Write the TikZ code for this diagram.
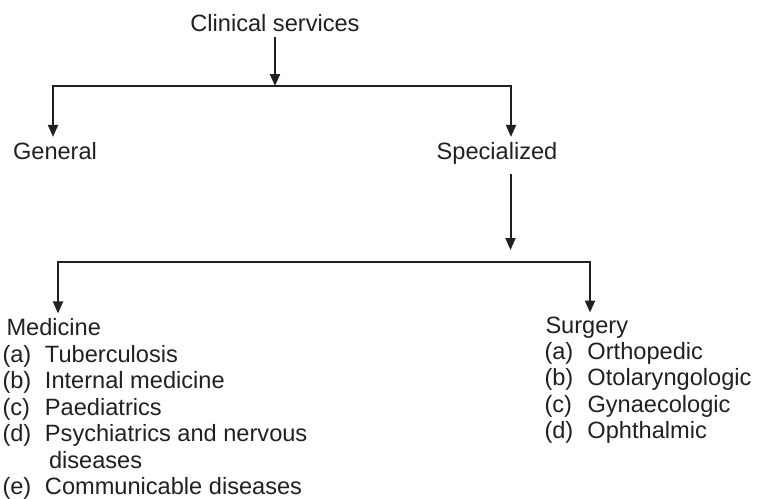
\documentclass[tikz,border=0pt]{standalone}
\usepackage{fontspec}
\setmainfont{Liberation Sans}
\usetikzlibrary{arrows.meta,calc}
\definecolor{ink}{HTML}{231F20}
\begin{document}
\begin{tikzpicture}[x=1pt,y=-1pt,
  every node/.style={inner sep=0pt,outer sep=0pt,font=\fontsize{23.6}{26.6}\selectfont,text=ink},
  lbl/.style={anchor=base west},
  ctr/.style={anchor=base},
  link/.style={line width=2pt,draw=ink},
  arr/.style={link,-{Triangle[length=12pt,width=10pt]}}]
\useasboundingbox (0,0) rectangle (757,498);
% nodes
\node[ctr] (cs) at (275,31) {Clinical services};
\node[ctr] (gen) at (55,159) {General};
\node[ctr] (spec) at (497,159) {Specialized};
\node[lbl] (med) at (6.5,335) {Medicine};
\node[lbl] (m1) at (2.5,362) {\makebox[42.5pt][l]{(a)}Tuberculosis};
\node[lbl] (m2) at (2.5,388.5) {\makebox[42.5pt][l]{(b)}Internal medicine};
\node[lbl] (m3) at (2.5,415) {\makebox[42.5pt][l]{(c)}Paediatrics};
\node[lbl] (m4) at (2.5,441.5) {\makebox[42.5pt][l]{(d)}Psychiatrics and nervous};
\node[lbl] (m4b) at (49,468) {diseases};
\node[lbl] (m5) at (2.5,494.5) {\makebox[42.5pt][l]{(e)}Communicable diseases};
\node[lbl] (surg) at (545.5,333) {Surgery};
\node[lbl] (s1) at (544.5,359) {\makebox[43pt][l]{(a)}Orthopedic};
\node[lbl] (s2l) at (544.5,385.5) {\makebox[43pt][l]{(b)}Otolaryngologic};
\node[lbl] (s3) at (544.5,412) {\makebox[43pt][l]{(c)}Gynaecologic};
\node[lbl] (s4) at (544.5,438) {\makebox[43pt][l]{(d)}Ophthalmic};
% junctions
\coordinate (top) at (275,86);
\coordinate (gl) at (53,86);
\coordinate (sr) at (511,86);
\coordinate (mid) at (510.5,262);
\coordinate (ml) at (58,262);
\coordinate (sgr) at (590,262);
% connectors
\draw[arr] ($(cs.south)+(0,6)$) -- (top);
\draw[arr] (top) -| ($(gl |- gen.north)+(0,-5)$);
\draw[arr] (top) -| ($(sr |- spec.north)+(0,-5)$);
\draw[arr] ($(mid |- spec.south)+(0,10)$) -- ($(mid)+(0,-12)$);
\draw[arr] (mid) -| ($(ml |- med.north)+(0,-4.5)$);
\draw[arr] (mid) -| ($(sgr |- surg.north)+(0,-4)$);
\end{tikzpicture}
\end{document}
